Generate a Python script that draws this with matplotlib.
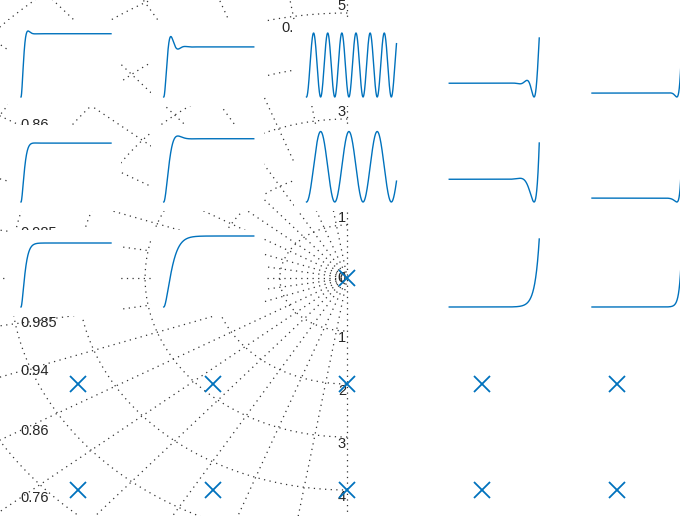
import numpy as np
import matplotlib.pyplot as plt

plt.rcParams['font.family'] = ['Liberation Sans', 'DejaVu Sans']

# pole locations: real parts across the columns, imaginary parts down the rows
SIGMA = [-4, -2, 0, 2, 4]
OMEGA = [4, 2, 0]
T_END = 10.0

# s-plane grid: damping ratios and natural frequencies
ZETA = [0.16, 0.34, 0.5, 0.64, 0.76, 0.86, 0.94, 0.985]
WN = [1, 2, 3, 4, 5, 6, 7, 8]
WN_LABELS = ['0', '1', '2', '3', '4', '5']

BLUE = '#0072BD'
GRID = '0.2'
TXT = '0.15'

# figure / layout (pixels)
W, H = 680, 516
X0, SX = 347.3, 67.4      # origin column, px per unit (real)
Y0, SY = 278.0, 53.0      # origin row, px per unit (imag)
BOX_W, BOX_H = 113, 86
COL_LEFT = [8 + 142.75 * j for j in range(5)]
ROW_TOP = [20, 125, 230]
PAD_L, PAD_R, PAD_B = 13, 10, 9
# space left above each curve's maximum (px)
HEADROOM = [[11, 16.5, 13, 18, 18],
            [18, 11, 6.5, 18, 18],
            [13, 6, 0, 9, 10]]


def step_response(sig, om, t):
    # unit-DC-gain second order system with poles sig +/- j*om
    if om == 0:
        return 1 - np.exp(sig * t) * (1 - sig * t)
    return 1 - np.exp(sig * t) * (np.cos(om * t) - sig / om * np.sin(om * t))


fig = plt.figure(figsize=(W / 100, H / 100), dpi=100)
ax = fig.add_axes([0, 0, 1, 1])
xmin, xmax = -X0 / SX, (W - X0) / SX
ymin, ymax = -(H - Y0) / SY, Y0 / SY
ax.set_xlim(xmin, xmax)
ax.set_ylim(ymin, ymax)
ax.set_axis_off()

dots = dict(color=GRID, lw=0.9, ls=(0, (1, 3.5)), zorder=1)

# constant damping lines (plus the two axes)
R = 15
for z in ZETA + [1.0]:
    s = np.sqrt(1 - z ** 2)
    ax.plot([0, -z * R], [0, s * R], **dots)
    if z < 1:
        ax.plot([0, -z * R], [0, -s * R], **dots)
ax.plot([0, 0], [-R, R], **dots)

# constant natural frequency semicircles
th = np.linspace(np.pi / 2, 3 * np.pi / 2, 400)
for w in WN:
    ax.plot(w * np.cos(th), w * np.sin(th), **dots)


def label(x, y, s, ha):
    # only labels whose anchor falls inside the view
    if xmin <= x <= xmax and ymin <= y <= ymax:
        ax.text(x, y, s, ha=ha, va='center', fontsize=10.5, color=TXT,
                clip_on=True, zorder=2)


# damping labels along the left edge / top edge
x_lab = (20 - X0) / SX
y_lab = 4.72
for z in ZETA:
    k = np.sqrt(1 - z ** 2) / z
    for sgn in (1, -1):
        if abs(x_lab) * k <= y_lab:
            label(x_lab, sgn * abs(x_lab) * k, f'{z:g}', 'left')
        else:
            label(-y_lab / k, sgn * y_lab, f'{z:g}', 'center')

# natural frequency labels along the imaginary axis
for lab in WN_LABELS:
    w = float(lab)
    for sgn in ((1, -1) if w > 0 else (1,)):
        label(-0.02, sgn * (w + 0.13 * (w > 0)), lab, 'right')

# poles
for om in OMEGA:
    for sig in SIGMA:
        ax.plot([sig], [-om], 'x', color=BLUE, ms=11, mew=1.3, zorder=3)
        if om > 0:
            ax.plot([sig], [om], 'x', color=BLUE, ms=11, mew=1.3, zorder=3)

# step responses at the upper-half pole positions
t = np.linspace(0, T_END, 3001)
for i, om in enumerate(OMEGA):
    for j, sig in enumerate(SIGMA):
        if sig == 0 and om == 0:
            continue
        y = step_response(sig, om, t)
        left, top = COL_LEFT[j], ROW_TOP[i]
        sub = fig.add_axes([left / W, 1 - (top + BOX_H) / H, BOX_W / W, BOX_H / H])
        sub.plot(t, y, color=BLUE, lw=1.0)
        px_per_s = (BOX_W - PAD_L - PAD_R) / T_END
        sub.set_xlim(-PAD_L / px_per_s, T_END + PAD_R / px_per_s)
        lo, hi = y.min(), y.max()
        span = BOX_H - PAD_B - HEADROOM[i][j]
        r = hi - lo
        sub.set_ylim(lo - PAD_B / span * r, hi + HEADROOM[i][j] / span * r)
        sub.set_xticks([])
        sub.set_yticks([])
        for sp in sub.spines.values():
            sp.set_visible(False)
        sub.set_facecolor('white')

fig.savefig('out.png', dpi=100)
